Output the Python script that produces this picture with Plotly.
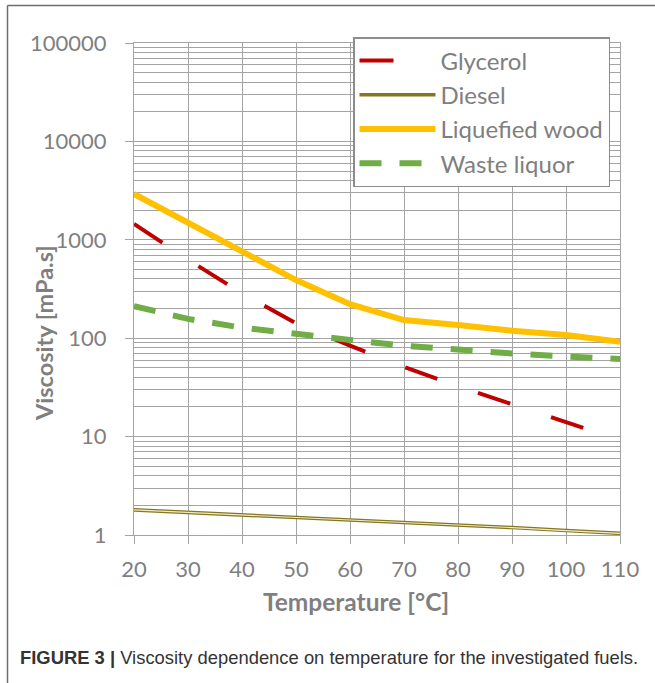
import plotly.graph_objects as go

# Temperature grid [°C] and measured viscosities [mPa.s]
temperature = [20, 30, 40, 50, 60, 70, 80, 90, 100, 110]
glycerol = [1450, 630, 285, 142, 84, 51, 32.5, 21.5, 14, 9.2]
diesel = [1.80, 1.70, 1.60, 1.50, 1.42, 1.33, 1.26, 1.19, 1.11, 1.04]
liquefied_wood = [2920, 1500, 755, 390, 222, 153, 136, 119, 108, 92]
waste_liquor = [212, 157, 128, 109, 96, 84, 76, 70, 65, 61.5]

x_ticks = [20, 30, 40, 50, 60, 70, 80, 90, 100, 110]
y_ticks = [1, 10, 100, 1000, 10000, 100000]

GRID = "#a4a4a4"
LABEL = "#7f7f7f"
CHART_FONT = "Lato, Open Sans, sans-serif"

fig = go.Figure()

fig.add_trace(go.Scatter(
    x=temperature, y=glycerol, name="Glycerol", mode="lines",
    line=dict(color="#c00000", width=4, dash="34px,43px"),
))
fig.add_trace(go.Scatter(
    x=temperature, y=diesel, name="Diesel", mode="lines",
    line=dict(color="#857622", width=3.6),
))
# light core of the double line
fig.add_trace(go.Scatter(
    x=temperature, y=diesel, name="Diesel", mode="lines", showlegend=False,
    line=dict(color="#f3ecc0", width=1.2),
))
fig.add_trace(go.Scatter(
    x=temperature, y=liquefied_wood, name="Liquefied wood", mode="lines",
    line=dict(color="#ffc000", width=6),
))
fig.add_trace(go.Scatter(
    x=temperature, y=waste_liquor, name="Waste liquor", mode="lines",
    line=dict(color="#70ad47", width=6, dash="22px,18px"),
))

L, T = 134, 43
W, H = 486, 492
FIG_W, FIG_H = 655, 683


def px_x(px):
    return (px - L) / W


def px_y(py):
    return (T + H - py) / H


fig.update_layout(
    width=FIG_W, height=FIG_H,
    margin=dict(l=L, r=FIG_W - L - W, t=T, b=FIG_H - T - H),
    paper_bgcolor="white", plot_bgcolor="white",
    font=dict(family=CHART_FONT, color=LABEL, size=22),
    showlegend=True,
    legend=dict(
        x=px_x(353), y=px_y(37), xanchor="left", yanchor="top",
        bgcolor="white", bordercolor="#8c8c8c", borderwidth=1.5,
        font=dict(family=CHART_FONT, size=24, color=LABEL),
        itemwidth=76, traceorder="normal",
    ),
    xaxis=dict(
        range=[20, 110], tickvals=x_ticks, ticktext=[str(v) for v in x_ticks],
        showgrid=True, gridcolor=GRID, gridwidth=1,
        showline=True, linecolor=GRID, linewidth=1, mirror=True,
        ticks="outside", ticklen=8, tickcolor=GRID,
        tickfont=dict(size=22, color=LABEL), ticklabelstandoff=7,
        zeroline=False,
    ),
    yaxis=dict(
        type="log", range=[0, 5], tickvals=y_ticks,
        ticktext=[str(v) for v in y_ticks],
        showgrid=True, gridcolor=GRID, gridwidth=1,
        minor=dict(dtick="D1", showgrid=True, gridcolor=GRID, gridwidth=1, ticks=""),
        showline=True, linecolor=GRID, linewidth=1, mirror=True,
        ticks="outside", ticklen=8, tickcolor=GRID,
        tickfont=dict(size=22, color=LABEL), ticklabelstandoff=14,
        zeroline=False,
    ),
)

annotations = [
    dict(text="<b>Temperature [°C]</b>", x=px_x(356), y=px_y(601),
         xref="paper", yref="paper", showarrow=False,
         xanchor="center", yanchor="middle",
         font=dict(family=CHART_FONT, size=24.5, color=LABEL)),
    dict(text="<b>Viscosity [mPa.s]</b>", x=px_x(44), y=px_y(333),
         xref="paper", yref="paper", showarrow=False, textangle=-90,
         xanchor="center", yanchor="middle",
         font=dict(family=CHART_FONT, size=23.5, color=LABEL)),
    dict(text="<b>FIGURE 3 |</b> Viscosity dependence on temperature for the investigated fuels.",
         x=px_x(18), y=px_y(657), xref="paper", yref="paper", showarrow=False,
         xanchor="left", yanchor="middle",
         font=dict(family="Liberation Sans Narrow, Liberation Sans, Arial, sans-serif",
                   size=18.4, color="#333333")),
]
fig.update_layout(annotations=annotations)

# outer figure frame (left and top edges)
frame = dict(color="#6e6e6e", width=1.5)
fig.add_shape(type="line", xref="paper", yref="paper",
              x0=px_x(7.5), x1=px_x(7.5), y0=px_y(5.5), y1=px_y(683), line=frame)
fig.add_shape(type="line", xref="paper", yref="paper",
              x0=px_x(7.5), x1=px_x(655), y0=px_y(5.5), y1=px_y(5.5), line=frame)

fig.write_html("out.html")
